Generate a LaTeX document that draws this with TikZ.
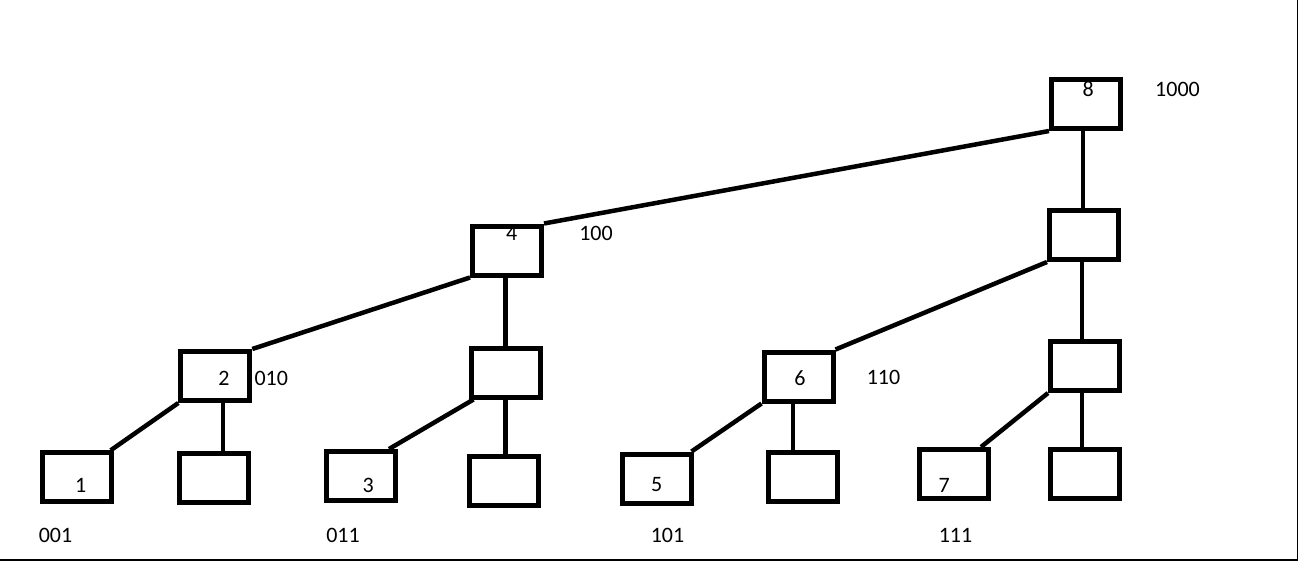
\documentclass[tikz,border=0pt]{standalone}
\usepackage{fontspec}
\setmainfont{Carlito}
\begin{document}
\begin{tikzpicture}[x=1pt,y=-1pt,
  treebox/.style={draw=black,line width=5pt,minimum width=69pt,minimum height=49pt,inner sep=0pt,fill=none},
  lbl/.style={inner sep=0pt,font=\fontsize{22}{22}\selectfont},
  edge/.style={draw=black,line width=4.5pt}]
\useasboundingbox (0,0) rectangle (1300,562);
\fill[white] (0,0) rectangle (1300,562);
\draw[line width=1.3pt] (1297.7,0) -- (1297.7,560) -- (0,560);
% boxes
\node[treebox] (b8) at (1086,104) {};
\node[treebox] (r1) at (1084,235) {};
\node[treebox] (r2) at (1085,366) {};
\node[treebox] (r3) at (1085,474) {};
\node[treebox] (b4) at (507,250.5) {};
\node[treebox] (m4) at (505.5,372.5) {};
\node[treebox] (c4) at (504.2,480.8) {};
\node[treebox] (b2) at (215.3,376) {};
\node[treebox] (c2) at (214.2,477.5) {};
\node[treebox] (b1) at (76.7,477.3) {};
\node[treebox] (b3) at (361,476) {};
\node[treebox] (b6) at (798.5,376.5) {};
\node[treebox] (c6) at (802.5,476.5) {};
\node[treebox] (b5) at (656.5,478.5) {};
\node[treebox] (b7) at (954,474) {};
% labels in boxes
\node[lbl] (t8) at (1088.3,89.3) {8};
\node[lbl] (t4) at (511.7,233.3) {4};
\node[lbl] (t2) at (224,378) {2};
\node[lbl] (t6) at (800,377.7) {6};
\node[lbl] (t1) at (80.7,485) {1};
\node[lbl] (t3) at (368.3,485) {3};
\node[lbl] (t5) at (656.7,485) {5};
\node[lbl] (t7) at (944.3,485) {7};
% binary labels
\node[lbl] (l1000) at (1177.5,89.3) {1000};
\node[lbl] (l100) at (596,233.3) {100};
\node[lbl] (l010) at (271.3,378) {010};
\node[lbl] (l110) at (883.5,377.7) {110};
\node[lbl] (l001) at (55.5,535) {001};
\node[lbl] (l011) at (343,535) {011};
\node[lbl] (l101) at (667.5,535) {101};
\node[lbl] (l111) at (955.5,535) {111};
% connectors
\draw[edge] (b8.south west) -- (b4.north east);
\draw[edge] ([xshift=-1pt]r1.north |- b8.south) -- ([xshift=-1pt]r1.north);
\draw[edge] (r1.south west) -- (b6.north east);
\draw[edge] ([xshift=-3pt]r2.north |- r1.south) -- ([xshift=-3pt]r2.north);
\draw[edge] (r2.south west) -- ([xshift=-10pt]b7.north east);
\draw[edge] ([xshift=-3pt]r3.north |- r2.south) -- ([xshift=-3pt]r3.north);
\draw[edge] (b4.south west) -- (b2.north east);
\draw[edge] (b4.south -| m4.north) -- (m4.north);
\draw[edge] ([xshift=5pt]m4.south west) -- ([xshift=-9pt]b3.north east);
\draw[edge] (m4.south) -- (m4.south |- c4.north);
\draw[edge] (b2.south west) -- ([xshift=-3pt]b1.north east);
\draw[edge] ([xshift=7.5pt]b2.south) -- ([xshift=7.5pt]b2.south |- c2.north);
\draw[edge] (b6.south west) -- ([xshift=-2pt]b5.north east);
\draw[edge] ([xshift=-5.5pt]b6.south) -- ([xshift=-5.5pt]b6.south |- c6.north);
\end{tikzpicture}
\end{document}
